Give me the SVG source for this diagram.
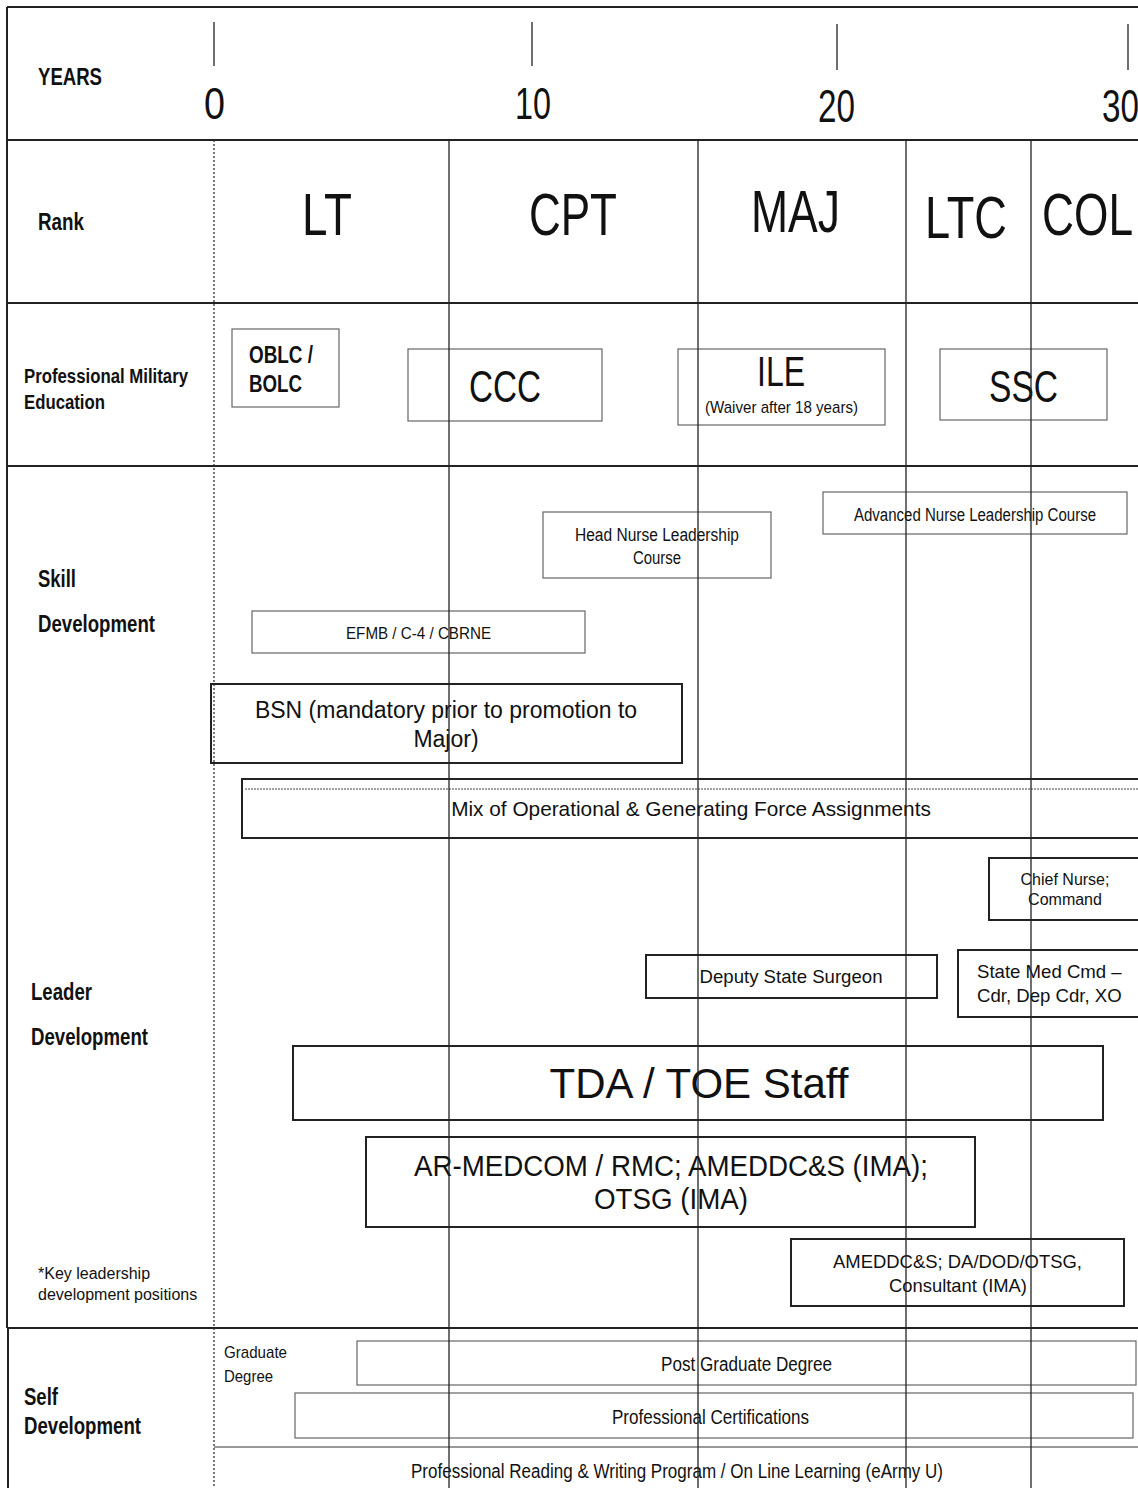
<svg xmlns="http://www.w3.org/2000/svg" width="1138" height="1488" viewBox="0 0 1138 1488">
<style>
.n{font-family:"Liberation Sans",Arial,sans-serif;fill:#111}
.r{font-family:"Liberation Sans",Arial,sans-serif;fill:#111}
.b{font-weight:bold}
.c{text-anchor:middle}
.thin{fill:none;stroke:#666;stroke-width:1.2}
.thick{fill:none;stroke:#222;stroke-width:2}
.grid{stroke:#222;stroke-width:2;fill:none}
.v{stroke:#222;stroke-width:1.3}
</style>
<rect width="1138" height="1488" fill="#fff"/>
<g id="grid">
<line class="grid" x1="7" y1="7" x2="1138" y2="7"/>
<line class="grid" x1="7" y1="7" x2="7" y2="1328"/>
<line class="grid" x1="8" y1="1328" x2="8" y2="1488"/>
<line class="grid" x1="7" y1="140" x2="1138" y2="140"/>
<line class="grid" x1="7" y1="303" x2="1138" y2="303"/>
<line class="grid" x1="7" y1="466" x2="1138" y2="466"/>
<line class="grid" x1="7" y1="1328" x2="1138" y2="1328"/>
<line x1="214" y1="140" x2="214" y2="1488" stroke="#333" stroke-width="1.3" stroke-dasharray="2,2"/>
</g>
<g id="years">
<line class="v" x1="214" y1="22" x2="214" y2="66"/>
<line class="v" x1="532" y1="22" x2="532" y2="66"/>
<line class="v" x1="837" y1="24" x2="837" y2="70"/>
<line class="v" x1="1128" y1="24" x2="1128" y2="70"/>
<text class="n b" x="38" y="85" font-size="24" textLength="64" lengthAdjust="spacingAndGlyphs">YEARS</text>
<text class="n" x="204" y="119" font-size="44" textLength="21" lengthAdjust="spacingAndGlyphs">0</text>
<text class="n" x="515" y="119" font-size="44" textLength="36" lengthAdjust="spacingAndGlyphs">10</text>
<text class="n" x="818" y="122" font-size="46" textLength="37" lengthAdjust="spacingAndGlyphs">20</text>
<text class="n" x="1102" y="122" font-size="46" textLength="37" lengthAdjust="spacingAndGlyphs">30</text>
</g>
<g id="labels">
<text class="n b" x="38" y="230" font-size="23" textLength="46" lengthAdjust="spacingAndGlyphs">Rank</text>
<text class="n b" x="24" y="383" font-size="21" textLength="164" lengthAdjust="spacingAndGlyphs">Professional Military</text>
<text class="n b" x="24" y="409" font-size="21" textLength="81" lengthAdjust="spacingAndGlyphs">Education</text>
<text class="n b" x="38" y="587" font-size="23" textLength="38" lengthAdjust="spacingAndGlyphs">Skill</text>
<text class="n b" x="38" y="632" font-size="23" textLength="117" lengthAdjust="spacingAndGlyphs">Development</text>
<text class="n b" x="31" y="1000" font-size="23" textLength="61" lengthAdjust="spacingAndGlyphs">Leader</text>
<text class="n b" x="31" y="1045" font-size="23" textLength="117" lengthAdjust="spacingAndGlyphs">Development</text>
<text class="r" x="38" y="1279" font-size="16">*Key leadership</text>
<text class="r" x="38" y="1300" font-size="16">development positions</text>
<text class="n b" x="24" y="1405" font-size="23" textLength="34" lengthAdjust="spacingAndGlyphs">Self</text>
<text class="n b" x="24" y="1434" font-size="23" textLength="117" lengthAdjust="spacingAndGlyphs">Development</text>
<text class="n" x="224" y="1358" font-size="17" textLength="63" lengthAdjust="spacingAndGlyphs">Graduate</text>
<text class="n" x="224" y="1382" font-size="17" textLength="49" lengthAdjust="spacingAndGlyphs">Degree</text>
</g>
<g id="ranks">
<text class="n" x="302" y="235" font-size="59" textLength="50" lengthAdjust="spacingAndGlyphs">LT</text>
<text class="n" x="529" y="235" font-size="59" textLength="88" lengthAdjust="spacingAndGlyphs">CPT</text>
<text class="n" x="751" y="232" font-size="59" textLength="89" lengthAdjust="spacingAndGlyphs">MAJ</text>
<text class="n" x="925" y="238" font-size="59" textLength="82" lengthAdjust="spacingAndGlyphs">LTC</text>
<text class="n" x="1042" y="235" font-size="59" textLength="91" lengthAdjust="spacingAndGlyphs">COL</text>
</g>
<g id="oblc"><rect class="thin" x="232" y="329" width="107" height="78"/>
<text class="n b" x="249" y="363" font-size="23" textLength="64" lengthAdjust="spacingAndGlyphs">OBLC /</text>
<text class="n b" x="249" y="392" font-size="23" textLength="53" lengthAdjust="spacingAndGlyphs">BOLC</text></g>
<g id="ccc"><rect class="thin" x="408" y="349" width="194" height="72"/>
<text class="n" x="469" y="402" font-size="44" textLength="72" lengthAdjust="spacingAndGlyphs">CCC</text></g>
<g id="ile"><rect class="thin" x="678" y="349" width="207" height="76"/>
<text class="n" x="757" y="386" font-size="42" textLength="48" lengthAdjust="spacingAndGlyphs">ILE</text>
<text class="n" x="705" y="413" font-size="17" textLength="153" lengthAdjust="spacingAndGlyphs">(Waiver after 18 years)</text></g>
<g id="ssc"><rect class="thin" x="940" y="349" width="167" height="71"/>
<text class="n" x="989" y="402" font-size="44" textLength="69" lengthAdjust="spacingAndGlyphs">SSC</text></g>
<g id="anlc"><rect class="thin" x="823" y="492" width="304" height="42"/>
<text class="n" x="854" y="521" font-size="18" textLength="242" lengthAdjust="spacingAndGlyphs">Advanced Nurse Leadership Course</text></g>
<g id="hnlc"><rect class="thin" x="543" y="512" width="228" height="66"/>
<text class="n" x="575" y="541" font-size="18" textLength="164" lengthAdjust="spacingAndGlyphs">Head  Nurse Leadership</text>
<text class="n" x="633" y="564" font-size="18" textLength="48" lengthAdjust="spacingAndGlyphs">Course</text></g>
<g id="efmb"><rect class="thin" x="252" y="611" width="333" height="42"/>
<text class="n" x="346" y="639" font-size="17" textLength="145" lengthAdjust="spacingAndGlyphs">EFMB / C-4 / CBRNE</text></g>
<g id="bsn"><rect class="thick" x="211" y="684" width="471" height="79"/>
<text class="r c" x="446" y="718" font-size="23">BSN (mandatory prior to promotion to</text>
<text class="r c" x="446" y="747" font-size="23">Major)</text></g>
<g id="mix"><rect class="thick" x="242" y="779" width="900" height="59"/>
<line x1="245" y1="789" x2="1138" y2="789" stroke="#444" stroke-width="1" stroke-dasharray="2,1"/>
<text class="r c" x="691" y="816" font-size="20.8">Mix of Operational &amp; Generating Force Assignments</text></g>
<g id="chief"><rect class="thick" x="989" y="858" width="155" height="62"/>
<text class="r c" x="1065" y="885" font-size="16">Chief Nurse;</text>
<text class="r c" x="1065" y="905" font-size="16">Command</text></g>
<g id="dss"><rect class="thick" x="646" y="955" width="291" height="43"/>
<text class="r c" x="791" y="983" font-size="18.6">Deputy State Surgeon</text></g>
<g id="smc"><rect class="thick" x="958" y="950" width="186" height="67"/>
<text class="r" x="977" y="978" font-size="18.6">State Med Cmd –</text>
<text class="r" x="977" y="1002" font-size="18.6">Cdr, Dep Cdr, XO</text></g>
<g id="tda"><rect class="thick" x="293" y="1046" width="810" height="74"/>
<text class="r c" x="699" y="1098" font-size="42">TDA / TOE Staff</text></g>
<g id="armedcom"><rect class="thick" x="366" y="1137" width="609" height="90"/>
<text class="n" x="414" y="1176" font-size="29" textLength="514" lengthAdjust="spacingAndGlyphs">AR-MEDCOM / RMC; AMEDDC&amp;S (IMA);</text>
<text class="n" x="594" y="1209" font-size="29" textLength="154" lengthAdjust="spacingAndGlyphs">OTSG (IMA)</text></g>
<g id="amed"><rect class="thick" x="791" y="1239" width="333" height="67"/>
<text class="n" x="833" y="1268" font-size="19" textLength="249" lengthAdjust="spacingAndGlyphs">AMEDDC&amp;S; DA/DOD/OTSG,</text>
<text class="n" x="889" y="1292" font-size="19" textLength="138" lengthAdjust="spacingAndGlyphs">Consultant (IMA)</text></g>
<g id="pgd"><rect class="thin" x="357" y="1341" width="779" height="44"/>
<text class="n" x="661" y="1371" font-size="20" textLength="171" lengthAdjust="spacingAndGlyphs">Post Graduate Degree</text></g>
<g id="cert"><rect class="thin" x="295" y="1393" width="838" height="45"/>
<text class="n" x="612" y="1424" font-size="20" textLength="197" lengthAdjust="spacingAndGlyphs">Professional Certifications</text></g>
<g id="reading"><line x1="214" y1="1447" x2="1138" y2="1447" stroke="#777" stroke-width="1.5"/>
<text class="n" x="411" y="1478" font-size="20" textLength="532" lengthAdjust="spacingAndGlyphs">Professional Reading &amp; Writing Program / On Line Learning (eArmy U)</text></g>
<g id="connectors">
<line class="v" x1="449" y1="140" x2="449" y2="1488"/>
<line class="v" x1="698" y1="140" x2="698" y2="1488"/>
<line class="v" x1="906" y1="140" x2="906" y2="1488"/>
<line class="v" x1="1031" y1="140" x2="1031" y2="1488"/>
</g>
</svg>
